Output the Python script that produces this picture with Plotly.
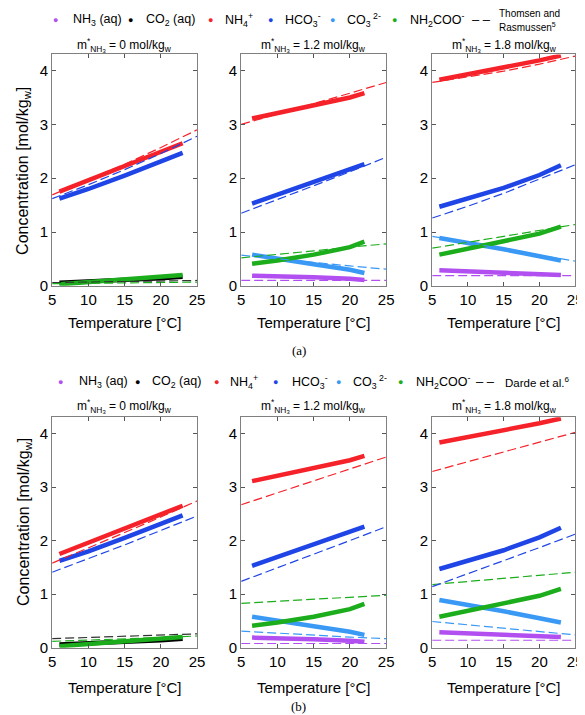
import plotly.graph_objects as go

W, H = 585, 715

# ---------------- data ----------------
# Experimental (solid) temperature grids
T_exp_0 = [6, 10, 15, 20, 23]
T_exp_12 = [6.5, 10, 15, 20, 22]
T_exp_18 = [6, 10, 15, 20, 23]
# Model (dashed) temperature grid
T_mod = [5, 10, 15, 20, 25]

# m*NH3 = 0 experimental
nh4_0 = [1.75, 1.96, 2.22, 2.48, 2.65]
hco3_0 = [1.62, 1.80, 2.05, 2.30, 2.47]
co2_0 = [0.06, 0.08, 0.11, 0.14, 0.17]
carb_0 = [0.03, 0.07, 0.12, 0.17, 0.20]
# m*NH3 = 1.2 experimental
nh4_12 = [3.11, 3.21, 3.36, 3.50, 3.58]
hco3_12 = [1.53, 1.69, 1.92, 2.15, 2.26]
carb_12 = [0.41, 0.47, 0.58, 0.72, 0.82]
co3_12 = [0.58, 0.50, 0.40, 0.30, 0.24]
nh3_12 = [0.19, 0.18, 0.16, 0.13, 0.11]
# m*NH3 = 1.8 experimental
nh4_18 = [3.83, 3.93, 4.06, 4.19, 4.28]
hco3_18 = [1.47, 1.62, 1.82, 2.06, 2.24]
carb_18 = [0.58, 0.69, 0.82, 0.97, 1.10]
co3_18 = [0.89, 0.80, 0.68, 0.55, 0.47]
nh3_18 = [0.29, 0.27, 0.25, 0.22, 0.20]

# Thomsen and Rasmussen model
tr_nh4_0 = [1.69, 1.97, 2.26, 2.57, 2.90]
tr_hco3_0 = [1.62, 1.88, 2.16, 2.46, 2.78]
tr_co2_0 = [0.06, 0.07, 0.08, 0.09, 0.10]
tr_carb_0 = [0.04, 0.05, 0.06, 0.065, 0.07]
tr_nh4_12 = [3.00, 3.19, 3.38, 3.58, 3.78]
tr_hco3_12 = [1.35, 1.60, 1.86, 2.12, 2.39]
tr_carb_12 = [0.52, 0.58, 0.65, 0.72, 0.78]
tr_co3_12 = [0.57, 0.50, 0.43, 0.37, 0.31]
tr_nh3_12 = [0.10, 0.10, 0.10, 0.10, 0.10]
tr_nh4_18 = [3.78, 3.88, 3.99, 4.12, 4.27]
tr_hco3_18 = [1.26, 1.48, 1.72, 1.98, 2.25]
tr_carb_18 = [0.70, 0.81, 0.92, 1.03, 1.14]
tr_co3_18 = [0.92, 0.80, 0.68, 0.57, 0.46]
tr_nh3_18 = [0.19, 0.19, 0.19, 0.19, 0.19]

# Darde et al. model
dd_nh4_0 = [1.58, 1.86, 2.15, 2.44, 2.74]
dd_hco3_0 = [1.41, 1.66, 1.92, 2.19, 2.46]
dd_co2_0 = [0.17, 0.19, 0.21, 0.235, 0.26]
dd_carb_0 = [0.12, 0.14, 0.17, 0.19, 0.22]
dd_nh4_12 = [2.67, 2.89, 3.11, 3.33, 3.56]
dd_hco3_12 = [1.24, 1.49, 1.74, 2.00, 2.26]
dd_carb_12 = [0.83, 0.87, 0.90, 0.94, 0.98]
dd_co3_12 = [0.31, 0.27, 0.24, 0.20, 0.17]
dd_nh3_12 = [0.08, 0.08, 0.08, 0.08, 0.08]
dd_nh4_18 = [3.29, 3.47, 3.65, 3.83, 4.02]
dd_hco3_18 = [1.14, 1.38, 1.62, 1.87, 2.12]
dd_carb_18 = [1.18, 1.24, 1.30, 1.35, 1.41]
dd_co3_18 = [0.49, 0.43, 0.37, 0.30, 0.24]
dd_nh3_18 = [0.14, 0.14, 0.14, 0.14, 0.14]

x_ticks = [5, 10, 15, 20, 25]
y_ticks = [0, 1, 2, 3, 4]
panel_titles = ["m<sup>*</sup><sub>NH<sub>3</sub></sub> = 0 mol/kg<sub>w</sub>",
                "m<sup>*</sup><sub>NH<sub>3</sub></sub> = 1.2 mol/kg<sub>w</sub>",
                "m<sup>*</sup><sub>NH<sub>3</sub></sub> = 1.8 mol/kg<sub>w</sub>"]
legend_labels = ["NH<sub>3</sub> (aq)", "CO<sub>2</sub> (aq)", "NH<sub>4</sub><sup>+</sup>",
                 "HCO<sub>3</sub><sup>-</sup>", "CO<sub>3</sub><sup> 2-</sup>", "NH<sub>2</sub>COO<sup>-</sup>"]

# ---------------- styling ----------------
C_NH3 = "#b24ff0"
C_CO2 = "#000000"
C_NH4 = "#f5222a"
C_HCO3 = "#1f45e6"
C_CO3 = "#3a99f5"
C_CARB = "#1cad1c"
legend_colors = [C_NH3, C_CO2, C_NH4, C_HCO3, C_CO3, C_CARB]
FONT = "Liberation Sans, Arial, sans-serif"

def px_x(p):
    return p / W

def px_y(p):
    return 1 - p / H

x_dom_px = [(41, 189), (234, 382), (429, 575)]
y_dom_px = [(47, 281), (414, 647)]

fig = go.Figure()

exp_sets = [
    (T_exp_0, [(co2_0, C_CO2), (carb_0, C_CARB), (hco3_0, C_HCO3), (nh4_0, C_NH4)]),
    (T_exp_12, [(nh3_12, C_NH3), (co3_12, C_CO3), (carb_12, C_CARB), (hco3_12, C_HCO3), (nh4_12, C_NH4)]),
    (T_exp_18, [(nh3_18, C_NH3), (co3_18, C_CO3), (carb_18, C_CARB), (hco3_18, C_HCO3), (nh4_18, C_NH4)]),
]
model_sets = [
    [  # Thomsen and Rasmussen
        [(tr_co2_0, C_CO2), (tr_carb_0, C_CARB), (tr_hco3_0, C_HCO3), (tr_nh4_0, C_NH4)],
        [(tr_nh3_12, C_NH3), (tr_co3_12, C_CO3), (tr_carb_12, C_CARB), (tr_hco3_12, C_HCO3), (tr_nh4_12, C_NH4)],
        [(tr_nh3_18, C_NH3), (tr_co3_18, C_CO3), (tr_carb_18, C_CARB), (tr_hco3_18, C_HCO3), (tr_nh4_18, C_NH4)],
    ],
    [  # Darde et al.
        [(dd_co2_0, C_CO2), (dd_carb_0, C_CARB), (dd_hco3_0, C_HCO3), (dd_nh4_0, C_NH4)],
        [(dd_nh3_12, C_NH3), (dd_co3_12, C_CO3), (dd_carb_12, C_CARB), (dd_hco3_12, C_HCO3), (dd_nh4_12, C_NH4)],
        [(dd_nh3_18, C_NH3), (dd_co3_18, C_CO3), (dd_carb_18, C_CARB), (dd_hco3_18, C_HCO3), (dd_nh4_18, C_NH4)],
    ],
]

layout_axes = {}
idx = 0
for r in range(2):
    for c in range(3):
        idx += 1
        xa = "x" if idx == 1 else f"x{idx}"
        ya = "y" if idx == 1 else f"y{idx}"
        Texp, series = exp_sets[c]
        for vals, col in series:
            fig.add_trace(go.Scatter(x=Texp, y=vals, mode="lines",
                                     line=dict(color=col, width=4.5),
                                     xaxis=xa, yaxis=ya, showlegend=False, hoverinfo="skip"))
        for vals, col in model_sets[r][c]:
            dcol = "#333333" if col == C_CO2 else col
            fig.add_trace(go.Scatter(x=T_mod, y=vals, mode="lines",
                                     line=dict(color=dcol, width=1.2, dash="9px,4px"),
                                     xaxis=xa, yaxis=ya, showlegend=False, hoverinfo="skip"))
        x0, x1 = x_dom_px[c]
        yt, yb = y_dom_px[r]
        common = dict(showline=True, linecolor="#808080", linewidth=1, mirror="ticks",
                      ticks="inside", ticklen=4, tickcolor="#555555", showgrid=False,
                      zeroline=False, tickfont=dict(size=15, color="#000000", family=FONT))
        layout_axes["xaxis" if idx == 1 else f"xaxis{idx}"] = dict(
            domain=[px_x(x0), px_x(x1)], range=[5, 25], tickvals=x_ticks,
            anchor=ya, **common)
        layout_axes["yaxis" if idx == 1 else f"yaxis{idx}"] = dict(
            domain=[px_y(yb), px_y(yt)], range=[0, 4.3], tickvals=y_ticks,
            anchor=xa, **common)

fig.update_layout(**layout_axes)

ann = []
def A(text, x, y, size, xanchor="center", angle=0, family=FONT, color="#000000"):
    ann.append(dict(text=text, x=px_x(x), y=px_y(y), xref="paper", yref="paper",
                    showarrow=False, xanchor=xanchor, yanchor="middle",
                    textangle=angle, font=dict(size=size, family=family, color=color)))

# panel titles
title_cx = [115, 308, 503]
for r, ty in enumerate([37, 403]):
    for c in range(3):
        A(panel_titles[c], title_cx[c], ty, 12)
    # x-axis titles
    for c in range(3):
        x0, x1 = x_dom_px[c]
        A("Temperature [°C]", (x0 + x1) / 2, [318, 687][r], 15)

# y-axis titles
A("Concentration [mol/kg<sub>w</sub>]", 11, 165, 16, angle=-90)
A("Concentration [mol/kg<sub>w</sub>]", 12, 520, 16, angle=-90)

# captions
A("(a)", 293, 346, 13, family="Liberation Serif, Times New Roman, serif")
A("(b)", 293, 706, 13, family="Liberation Serif, Times New Roman, serif")

# legends
leg_a_dots = [44, 121, 203, 264, 327, 390]
leg_a_text = [60, 135, 215, 277, 340, 404]
leg_b_dots = [50, 128, 209, 269, 333, 397]
leg_b_text = [66, 141, 221, 284, 346, 410]
for dots, texts, ly in [(leg_a_dots, leg_a_text, 12), (leg_b_dots, leg_b_text, 378)]:
    for i in range(6):
        A("●", dots[i], ly, 9, color=legend_colors[i])
        A(legend_labels[i], texts[i], ly, 12.5, xanchor="left")
A("– –", 479, 12, 13)
A("Thomsen and", 495, 6, 10, xanchor="left")
A("Rasmussen<sup>5</sup>", 495, 19, 10, xanchor="left")
A("– –", 483, 378, 13)
A("Darde et al.<sup>6</sup>", 501, 378, 11.5, xanchor="left")

fig.update_layout(annotations=ann, width=W, height=H,
                  margin=dict(l=0, r=0, t=0, b=0),
                  paper_bgcolor="white", plot_bgcolor="white",
                  font=dict(family=FONT, color="#000000"), showlegend=False)

fig.write_html("out.html")
